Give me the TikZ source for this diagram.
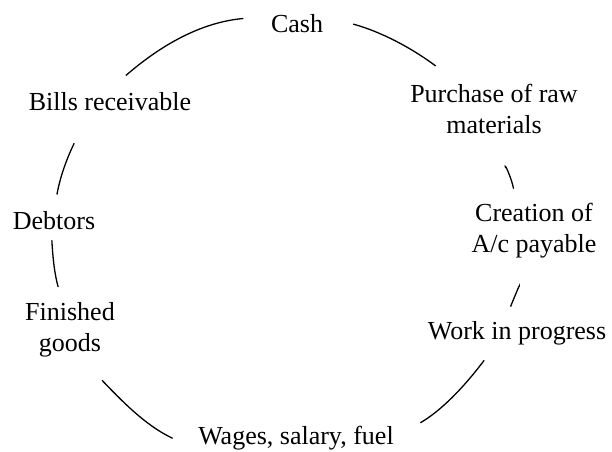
\documentclass[tikz,border=0pt]{standalone}
\usepackage{fontspec}
\setmainfont{Liberation Serif}
\tikzset{
  every node/.style={font=\fontsize{26}{31}\selectfont,text=black},
  stage/.style={inner sep=0pt,align=center},
  cyc/.style={draw=black,line width=1.3pt},
}
\begin{document}
\begin{tikzpicture}[x=1pt,y=1pt]
\useasboundingbox (0,0) rectangle (612,451);

% --- stages round the cycle
\node[stage] (cash) at (297,427.4) {Cash};
\node[stage] (purchase) at (494,342) {Purchase of raw\\materials};
\node[stage] (creation) at (534,220) {Creation of\\A/c payable};
\node[stage] (wip) at (517,117.5) {Work in progress};
\node[stage] (wages) at (296,13) {Wages, salary, fuel};
\node[stage] (finished) at (70,121) {Finished\\goods};
\node[stage] (debtors) at (54,230.4) {Debtors};
\node[stage] (bills) at (110,349.4) {Bills receivable};

% --- arcs between the stages
\draw[cyc,shorten <=31pt,shorten >=30pt] (cash.16) to[out=-15,in=143] (purchase.144);
\draw[cyc,shorten <=36pt,shorten >=15pt] (purchase.south) to[out=-71,in=102] (creation.122);
\draw[cyc,shorten <=29pt,shorten >=16pt] (creation.-104) to[out=-106,in=68] (wip.136);
\draw[cyc,shorten <=18.5pt,shorten >=30.5pt] (wip.-151) to[out=-127,in=30] (wages.east);
\draw[cyc,shorten <=28pt,shorten >=31.7pt] (wages.south west) to[out=155,in=-46] (finished.-70);
\draw[cyc,shorten <=16pt,shorten >=10.5pt] (finished.105) to[out=106,in=-87] (debtors.-106);
\draw[cyc,shorten <=17pt,shorten >=36pt] (debtors.north) to[out=80,in=-116] (bills.-155);
\draw[cyc,shorten <=25.5pt,shorten >=27.6pt] (bills.110) to[out=41,in=185] (cash.164);

\end{tikzpicture}
\end{document}
